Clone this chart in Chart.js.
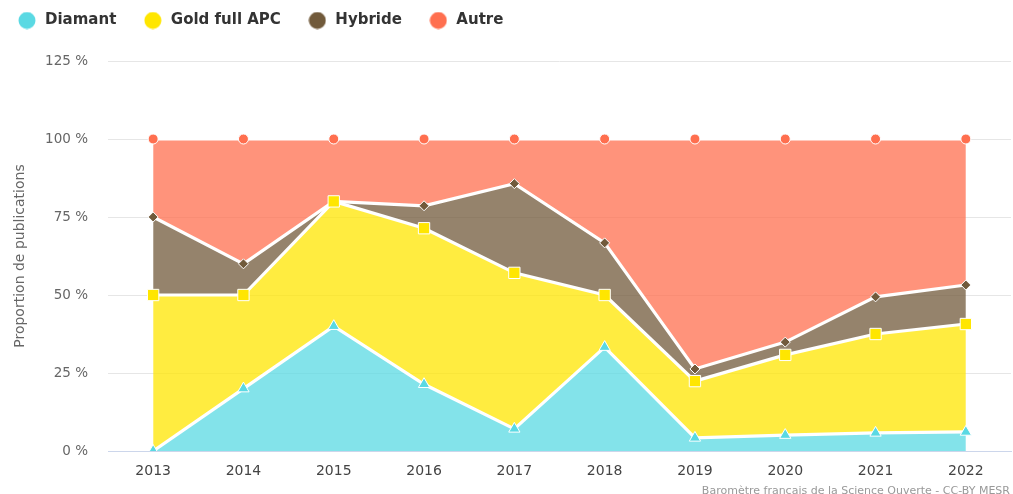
<!DOCTYPE html>
<html>
<head>
<meta charset="utf-8">
<script src="https://cdn.jsdelivr.net/npm/chart.js@4.4.0/dist/chart.umd.min.js"></script>
<style>
    html, body { margin: 0; padding: 0; background: #ffffff; }
    #wrap { width: 1013px; height: 494px; position: relative; }
</style>
</head>
<body>
<div id="wrap"><canvas id="chart"></canvas></div>
<script>
const years = ['2013', '2014', '2015', '2016', '2017', '2018', '2019', '2020', '2021', '2022'];

// parts en % (empilées jusqu'à 100)
const diamant = [0, 20, 40, 21.4, 7.1, 33.3, 4.2, 5.1, 5.8, 6.1];
const goldApc = [50, 30, 40, 50, 50, 16.7, 18.2, 25.7, 31.7, 34.6];
const hybride = [25, 10, 0, 7.2, 28.6, 16.7, 3.9, 4.1, 11.9, 12.5];
const autre = [25, 40, 20, 21.4, 14.3, 33.3, 73.7, 65.1, 50.6, 46.8];

const yTicks = [0, 25, 50, 75, 100, 125];

const FONT = "'DejaVu Sans', sans-serif";

// pastille ronde pour la légende
function legendDot(color) {
    const c = document.createElement('canvas');
    c.width = 18;
    c.height = 18;
    const ctx = c.getContext('2d');
    ctx.fillStyle = color;
    ctx.beginPath();
    ctx.arc(9, 9, 8.5, 0, Math.PI * 2);
    ctx.fill();
    return c;
}

function serie(label, data, color, fill, pointStyle, radius) {
    return {
        label: label,
        data: data,
        backgroundColor: fill,
        borderColor: '#ffffff',
        borderWidth: 3.2,
        fill: label === 'Diamant' ? 'origin' : '-1',
        tension: 0,
        pointStyle: pointStyle,
        pointRadius: radius,
        pointBackgroundColor: color,
        pointBorderColor: '#ffffff',
        pointBorderWidth: 1,
    };
}

const credits = {
    id: 'credits',
    afterDraw(chart) {
        const ctx = chart.ctx;
        ctx.save();
        ctx.font = '11px ' + FONT;
        ctx.fillStyle = '#999999';
        ctx.textAlign = 'right';
        ctx.textBaseline = 'alphabetic';
        ctx.fillText('Baromètre français de la Science Ouverte - CC-BY MESR', 1010, 494);
        ctx.restore();
    }
};

const legendSpace = {
    id: 'legendSpace',
    beforeInit(chart) {
        const fit = chart.legend.fit;
        chart.legend.fit = function () {
            fit.bind(chart.legend)();
            this.height += 10;
        };
    },
    afterLayout(chart) {
        chart.legend.left -= 9.5;
        chart.legend.top -= 13;
    }
};

const chart = new Chart(document.getElementById('chart'), {
    type: 'line',
    data: {
        labels: years,
        datasets: [
            serie('Diamant', diamant, '#5ad9e3', 'rgba(90, 217, 227, 0.75)', 'triangle', 6.5),
            serie('Gold full APC', goldApc, '#ffe600', 'rgba(255, 230, 0, 0.75)', 'rect', 8),
            serie('Hybride', hybride, '#715a3b', 'rgba(113, 90, 59, 0.75)', 'rectRot', 5),
            serie('Autre', autre, '#ff6f4f', 'rgba(255, 111, 79, 0.75)', 'circle', 5),
        ]
    },
    options: {
        responsive: true,
        maintainAspectRatio: false,
        animation: false,
        layout: { autoPadding: false, padding: { left: 0, right: 2, top: 0, bottom: 0 } },
        plugins: {
            filler: { drawTime: 'beforeDatasetsDraw' },
            legend: {
                position: 'top',
                align: 'start',
                labels: {
                    usePointStyle: true,
                    pointStyleWidth: 21,
                    boxHeight: 12,
                    padding: 26,
                    color: '#333333',
                    font: { family: FONT, size: 15, weight: 'bold' },
                    generateLabels(chart) {
                        return chart.data.datasets.map((ds, i) => ({
                            text: ds.label,
                            fillStyle: ds.pointBackgroundColor,
                            strokeStyle: ds.pointBackgroundColor,
                            lineWidth: 0,
                            pointStyle: legendDot(ds.pointBackgroundColor),
                            datasetIndex: i,
                            fontColor: '#333333',
                        }));
                    }
                }
            },
            tooltip: { enabled: false },
        },
        scales: {
            x: {
                offset: true,
                grid: { display: false, drawTicks: false },
                border: { color: '#ccd6eb', width: 1 },
                ticks: {
                    color: '#444444',
                    padding: 12,
                    font: { family: FONT, size: 14 },
                },
                afterFit(scale) {
                    scale.height = 43;
                    scale.paddingLeft = 0;
                    scale.paddingRight = 0;
                }
            },
            y: {
                stacked: true,
                min: 0,
                max: 125,
                afterBuildTicks(scale) { scale.ticks = yTicks.map(v => ({ value: v })); },
                grid: { color: '#e6e6e6', drawTicks: false },
                border: { display: false },
                ticks: {
                    color: '#666666',
                    padding: 20,
                    font: { family: FONT, size: 13.5 },
                    callback: v => v + ' %',
                },
                title: {
                    display: true,
                    text: 'Proportion de publications',
                    color: '#666666',
                    padding: { top: 12, bottom: 0 },
                    font: { family: FONT, size: 14 },
                },
                afterFit(scale) { scale.width = 108; }
            }
        }
    },
    plugins: [credits, legendSpace]
});
</script>
</body>
</html>
